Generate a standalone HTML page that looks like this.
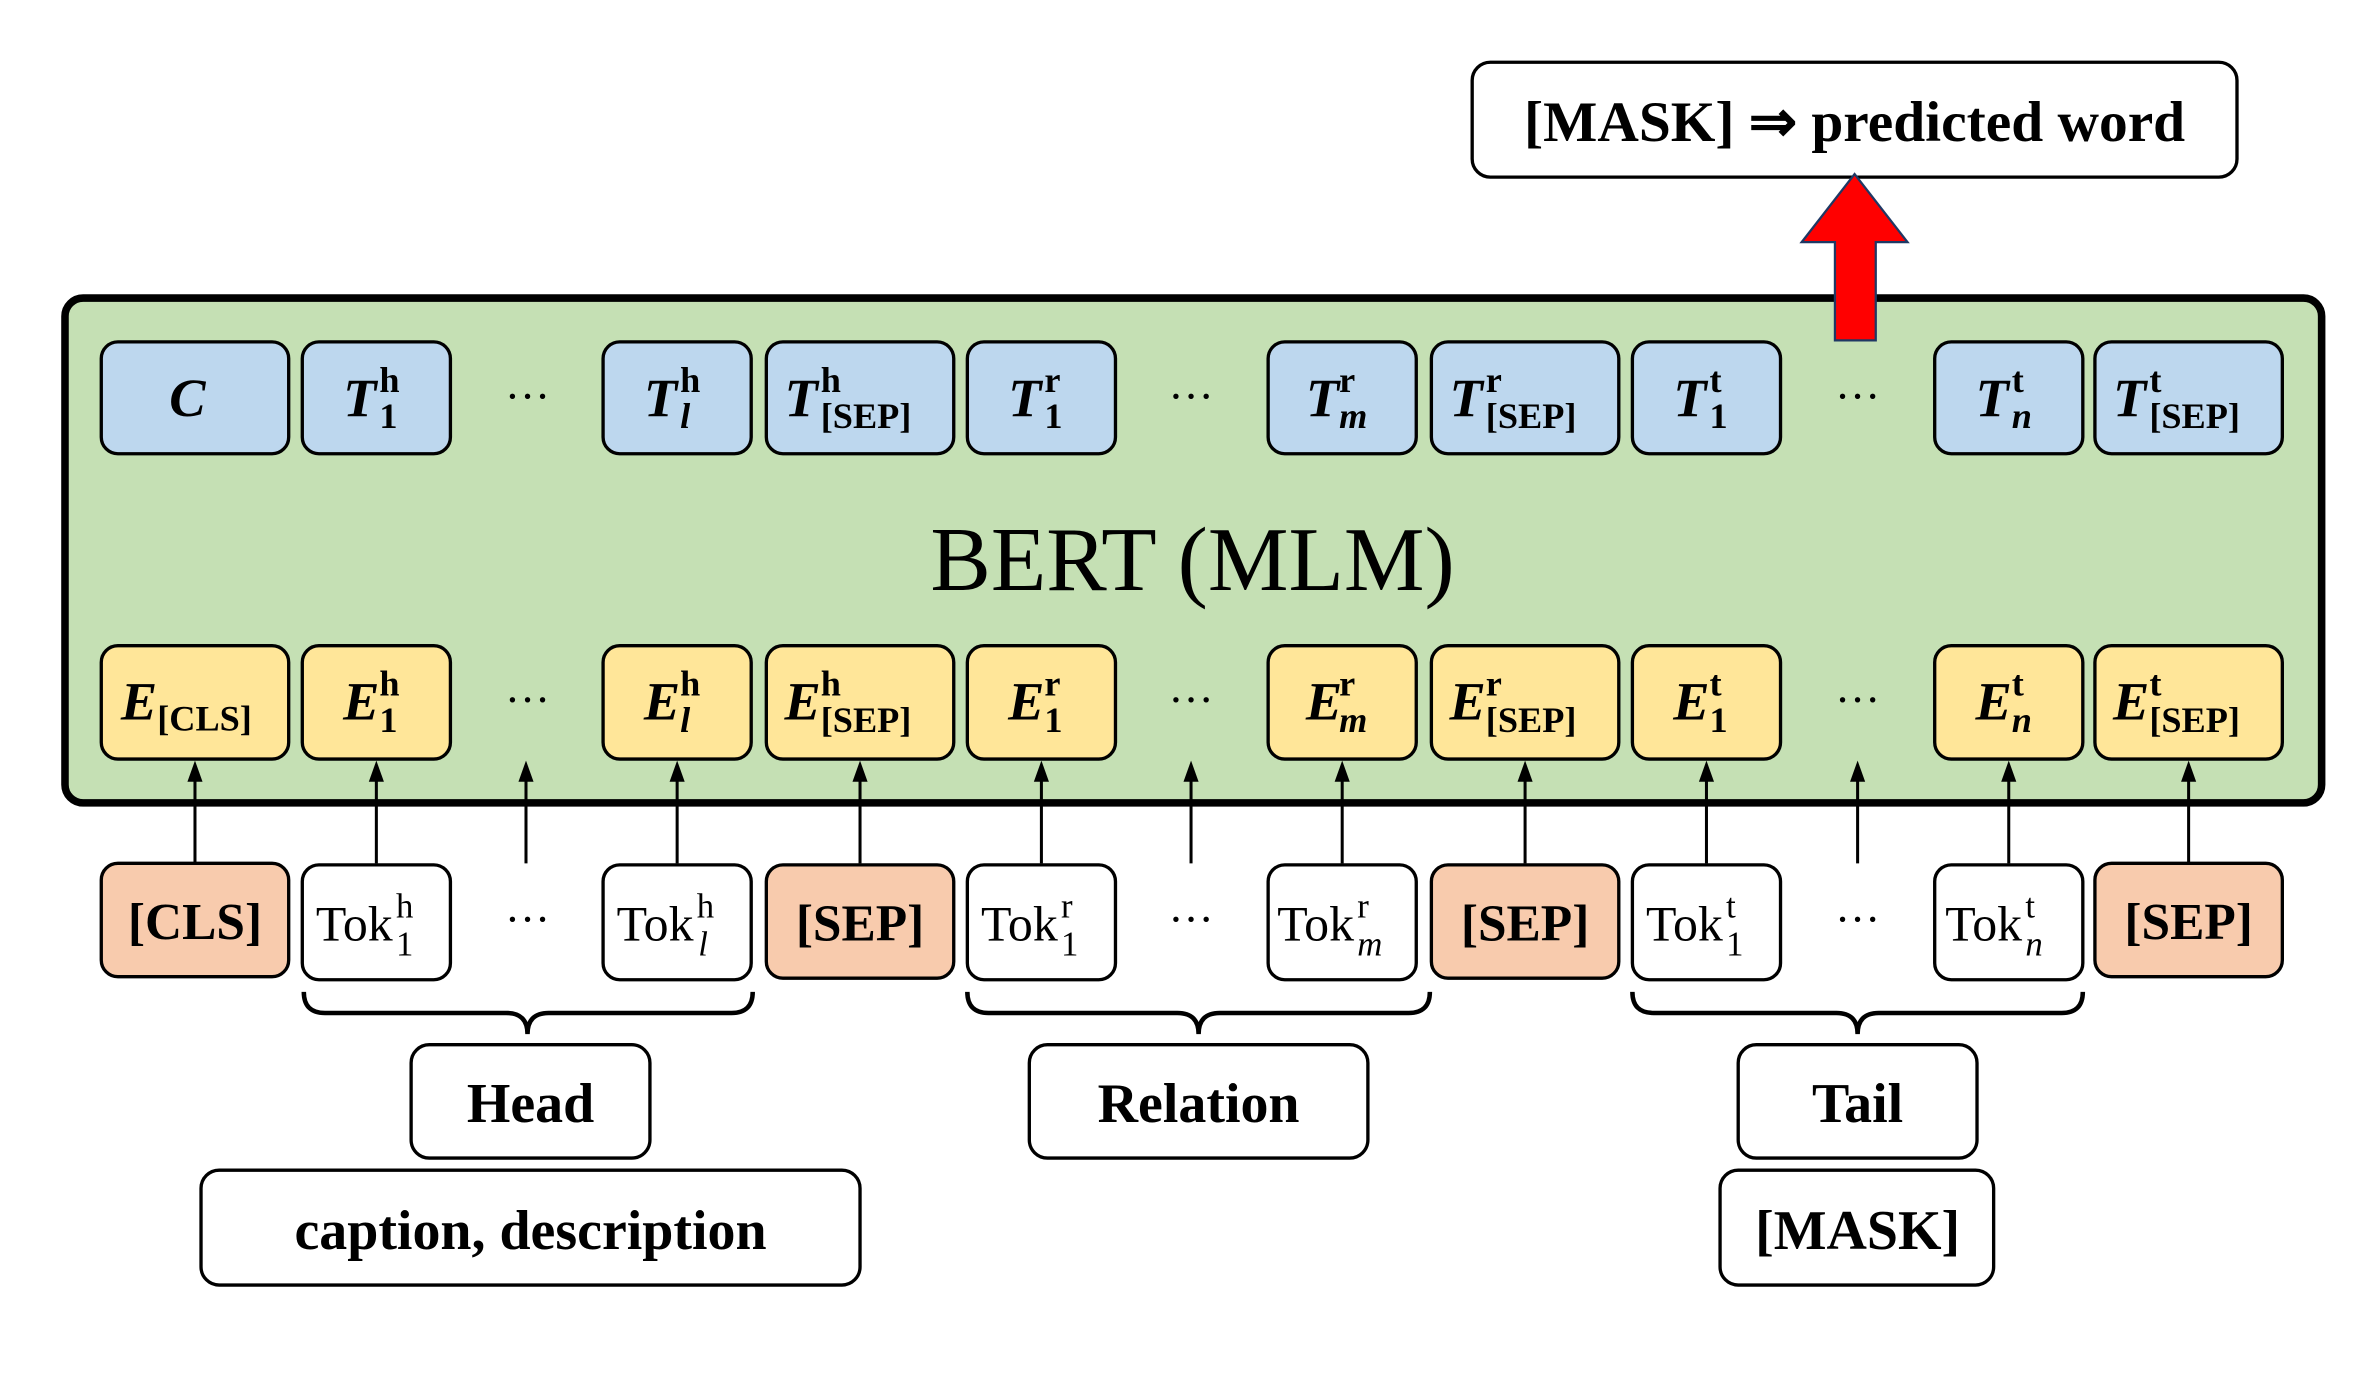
<!DOCTYPE html>
<html><head><meta charset="utf-8"><style>
html,body{margin:0;padding:0;background:#fff}
svg{display:block}
text{font-family:"Liberation Serif",serif;fill:#000}
.m{font-size:36px;font-weight:bold;font-style:italic}
.s{font-size:24px;font-weight:bold}
.si{font-size:24px;font-weight:bold;font-style:italic}
.tk{font-size:33px}
.ts{font-size:23px}
.tsi{font-size:23px;font-style:italic}
.b{font-size:34px;font-weight:bold;text-anchor:middle}
.l{font-size:37px;font-weight:bold;text-anchor:middle}
.d{font-size:30px;text-anchor:middle}
.bx{stroke:#000;stroke-width:2.2}
</style></head><body>
<svg width="2370" height="1373" viewBox="0 0 1568 908" xmlns="http://www.w3.org/2000/svg">

<!-- top output box -->
<rect x="974" y="41" width="506" height="76" rx="12" fill="#fff" class="bx"/>
<text x="1227" y="93" text-anchor="middle" style="font-size:38px;font-weight:bold">[MASK] ⇒ predicted word</text>

<!-- green BERT box -->
<rect x="43" y="197" width="1493" height="334" rx="12" fill="#c5e0b4" stroke="#000" stroke-width="5"/>
<text x="789" y="390" text-anchor="middle" style="font-size:60px">BERT (MLM)</text>

<!-- red arrow -->
<path d="M1227,115 L1262,160 L1241,160 L1241,225 L1214,225 L1214,160 L1192,160 Z" fill="#ff0000" stroke="#1f3864" stroke-width="1.5"/>

<!-- blue row -->
<g fill="#bdd7ee" class="bx">
<rect x="67" y="226" width="124" height="74" rx="11"/>
<rect x="200" y="226" width="98" height="74" rx="11"/>
<rect x="399" y="226" width="98" height="74" rx="11"/>
<rect x="507" y="226" width="124" height="74" rx="11"/>
<rect x="640" y="226" width="98" height="74" rx="11"/>
<rect x="839" y="226" width="98" height="74" rx="11"/>
<rect x="947" y="226" width="124" height="74" rx="11"/>
<rect x="1080" y="226" width="98" height="74" rx="11"/>
<rect x="1280" y="226" width="98" height="74" rx="11"/>
<rect x="1386" y="226" width="124" height="74" rx="11"/>
</g>
<text class="m" x="124" y="275" text-anchor="middle">C</text>
<text class="m" x="227" y="275">T</text><text class="s" x="251" y="259">h</text><text class="s" x="251" y="283">1</text>
<text class="m" x="426" y="275">T</text><text class="s" x="450" y="259">h</text><text class="si" x="450" y="283">l</text>
<text class="m" x="519" y="275">T</text><text class="s" x="543" y="259">h</text><text class="s" x="543" y="283">[SEP]</text>
<text class="m" x="667" y="275">T</text><text class="s" x="691" y="259">r</text><text class="s" x="691" y="283">1</text>
<text class="m" x="864" y="275">T</text><text class="s" x="886" y="259">r</text><text class="si" x="886" y="283">m</text>
<text class="m" x="959" y="275">T</text><text class="s" x="983" y="259">r</text><text class="s" x="983" y="283">[SEP]</text>
<text class="m" x="1107" y="275">T</text><text class="s" x="1131" y="259">t</text><text class="s" x="1131" y="283">1</text>
<text class="m" x="1307" y="275">T</text><text class="s" x="1331" y="259">t</text><text class="si" x="1331" y="283">n</text>
<text class="m" x="1398" y="275">T</text><text class="s" x="1422" y="259">t</text><text class="s" x="1422" y="283">[SEP]</text>
<text class="d" x="349" y="272">···</text><text class="d" x="788" y="272">···</text><text class="d" x="1229" y="272">···</text>

<!-- yellow row -->
<g fill="#ffe699" class="bx">
<rect x="67" y="427" width="124" height="75" rx="11"/>
<rect x="200" y="427" width="98" height="75" rx="11"/>
<rect x="399" y="427" width="98" height="75" rx="11"/>
<rect x="507" y="427" width="124" height="75" rx="11"/>
<rect x="640" y="427" width="98" height="75" rx="11"/>
<rect x="839" y="427" width="98" height="75" rx="11"/>
<rect x="947" y="427" width="124" height="75" rx="11"/>
<rect x="1080" y="427" width="98" height="75" rx="11"/>
<rect x="1280" y="427" width="98" height="75" rx="11"/>
<rect x="1386" y="427" width="124" height="75" rx="11"/>
</g>
<text class="m" x="80" y="476">E</text><text class="s" x="104" y="483">[CLS]</text>
<text class="m" x="227" y="476">E</text><text class="s" x="251" y="460">h</text><text class="s" x="251" y="484">1</text>
<text class="m" x="426" y="476">E</text><text class="s" x="450" y="460">h</text><text class="si" x="450" y="484">l</text>
<text class="m" x="519" y="476">E</text><text class="s" x="543" y="460">h</text><text class="s" x="543" y="484">[SEP]</text>
<text class="m" x="667" y="476">E</text><text class="s" x="691" y="460">r</text><text class="s" x="691" y="484">1</text>
<text class="m" x="864" y="476">E</text><text class="s" x="886" y="460">r</text><text class="si" x="886" y="484">m</text>
<text class="m" x="959" y="476">E</text><text class="s" x="983" y="460">r</text><text class="s" x="983" y="484">[SEP]</text>
<text class="m" x="1107" y="476">E</text><text class="s" x="1131" y="460">t</text><text class="s" x="1131" y="484">1</text>
<text class="m" x="1307" y="476">E</text><text class="s" x="1331" y="460">t</text><text class="si" x="1331" y="484">n</text>
<text class="m" x="1398" y="476">E</text><text class="s" x="1422" y="460">t</text><text class="s" x="1422" y="484">[SEP]</text>
<text class="d" x="349" y="473">···</text><text class="d" x="788" y="473">···</text><text class="d" x="1229" y="473">···</text>

<!-- arrows -->
<g stroke="#000" stroke-width="2">
<line x1="129" y1="571" x2="129" y2="514"/>
<line x1="249" y1="571" x2="249" y2="514"/>
<line x1="348" y1="571" x2="348" y2="514"/>
<line x1="448" y1="571" x2="448" y2="514"/>
<line x1="569" y1="571" x2="569" y2="514"/>
<line x1="689" y1="571" x2="689" y2="514"/>
<line x1="788" y1="571" x2="788" y2="514"/>
<line x1="888" y1="571" x2="888" y2="514"/>
<line x1="1009" y1="571" x2="1009" y2="514"/>
<line x1="1129" y1="571" x2="1129" y2="514"/>
<line x1="1229" y1="571" x2="1229" y2="514"/>
<line x1="1329" y1="571" x2="1329" y2="514"/>
<line x1="1448" y1="571" x2="1448" y2="514"/>
</g>
<g fill="#000">
<path d="M129,503 L134,517 L124,517 Z"/>
<path d="M249,503 L254,517 L244,517 Z"/>
<path d="M348,503 L353,517 L343,517 Z"/>
<path d="M448,503 L453,517 L443,517 Z"/>
<path d="M569,503 L574,517 L564,517 Z"/>
<path d="M689,503 L694,517 L684,517 Z"/>
<path d="M788,503 L793,517 L783,517 Z"/>
<path d="M888,503 L893,517 L883,517 Z"/>
<path d="M1009,503 L1014,517 L1004,517 Z"/>
<path d="M1129,503 L1134,517 L1124,517 Z"/>
<path d="M1229,503 L1234,517 L1224,517 Z"/>
<path d="M1329,503 L1334,517 L1324,517 Z"/>
<path d="M1448,503 L1453,517 L1443,517 Z"/>
</g>

<!-- token row -->
<g class="bx">
<rect x="67" y="571" width="124" height="75" rx="11" fill="#f8cbad"/>
<rect x="200" y="572" width="98" height="76" rx="11" fill="#fff"/>
<rect x="399" y="572" width="98" height="76" rx="11" fill="#fff"/>
<rect x="507" y="572" width="124" height="75" rx="11" fill="#f8cbad"/>
<rect x="640" y="572" width="98" height="76" rx="11" fill="#fff"/>
<rect x="839" y="572" width="98" height="76" rx="11" fill="#fff"/>
<rect x="947" y="572" width="124" height="75" rx="11" fill="#f8cbad"/>
<rect x="1080" y="572" width="98" height="76" rx="11" fill="#fff"/>
<rect x="1280" y="572" width="98" height="76" rx="11" fill="#fff"/>
<rect x="1386" y="571" width="124" height="75" rx="11" fill="#f8cbad"/>
</g>
<text class="b" x="129" y="621">[CLS]</text>
<text class="b" x="569" y="622">[SEP]</text>
<text class="b" x="1009" y="622">[SEP]</text>
<text class="b" x="1448" y="621">[SEP]</text>
<text class="tk" x="209" y="622">Tok</text><text class="ts" x="262" y="607">h</text><text class="ts" x="262" y="632">1</text>
<text class="tk" x="408" y="622">Tok</text><text class="ts" x="461" y="607">h</text><text class="tsi" x="462" y="632">l</text>
<text class="tk" x="649" y="622">Tok</text><text class="ts" x="702" y="607">r</text><text class="ts" x="702" y="632">1</text>
<text class="tk" x="845" y="622">Tok</text><text class="ts" x="898" y="607">r</text><text class="tsi" x="898" y="632">m</text>
<text class="tk" x="1089" y="622">Tok</text><text class="ts" x="1142" y="607">t</text><text class="ts" x="1142" y="632">1</text>
<text class="tk" x="1287" y="622">Tok</text><text class="ts" x="1340" y="607">t</text><text class="tsi" x="1340" y="632">n</text>
<text class="d" x="349" y="618">···</text><text class="d" x="788" y="618">···</text><text class="d" x="1229" y="618">···</text>

<!-- braces -->
<g fill="none" stroke="#000" stroke-width="3">
<path d="M201,656 Q201,670 215,670 L335,670 Q349,670 349,684 Q349,670 363,670 L484,670 Q498,670 498,656"/>
<path d="M640,656 Q640,670 654,670 L779,670 Q793,670 793,684 Q793,670 807,670 L932,670 Q946,670 946,656"/>
<path d="M1080,656 Q1080,670 1094,670 L1215,670 Q1229,670 1229,684 Q1229,670 1243,670 L1364,670 Q1378,670 1378,656"/>
</g>

<!-- labels -->
<g fill="#fff" class="bx">
<rect x="272" y="691" width="158" height="75" rx="12"/>
<rect x="681" y="691" width="224" height="75" rx="12"/>
<rect x="1150" y="691" width="158" height="75" rx="12"/>
<rect x="133" y="774" width="436" height="76" rx="12"/>
<rect x="1138" y="774" width="181" height="76" rx="12"/>
</g>
<text class="l" x="351" y="742">Head</text>
<text class="l" x="793" y="742">Relation</text>
<text class="l" x="1229" y="742">Tail</text>
<text class="l" x="351" y="826">caption, description</text>
<text class="l" x="1229" y="826">[MASK]</text>
</svg>
</body></html>
